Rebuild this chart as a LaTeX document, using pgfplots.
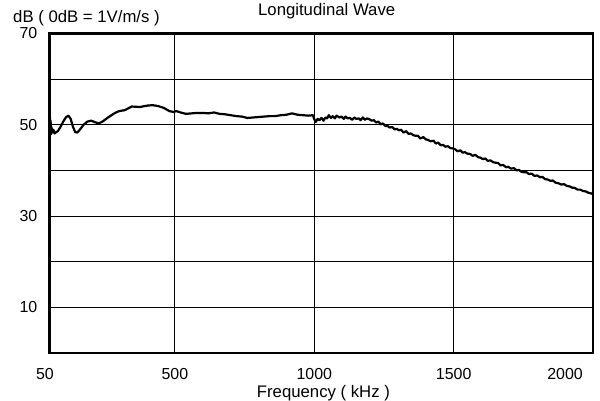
\documentclass[border=0pt]{standalone}
\usepackage{fontspec}
\setmainfont{Liberation Sans}
\usepackage{pgfplots}
\pgfplotsset{compat=1.18}

\begin{document}
\begin{tikzpicture}
\useasboundingbox (-49.5bp,-48bp) rectangle (550.5bp,353bp);
\begin{axis}[
	scale only axis,
	width=543.5bp,
	height=319.5bp,
	xmin=50, xmax=2000,
	ymin=0, ymax=70,
	xtick={50,500,1000,1500,2000},
	xticklabels={\hspace*{-9bp}50,500,1000,1500,\hspace*{-56bp}2000},
	ytick={0,10,...,70},
	yticklabels={,10,,30,,50,,70},
	major tick length=0pt,
	grid=major,
	major grid style={black, line width=0.9bp},
	axis line style={black, line width=2.5bp},
	tick label style={font=\fontsize{16}{18}\selectfont, inner sep=0pt},
	/pgf/number format/assume math mode=true,
	xticklabel shift=15.5bp,
	yticklabel shift=12bp,
	title={Longitudinal Wave},
	title style={at={(0.51,1)}, anchor=base, yshift=12.5bp, inner sep=0pt, font=\fontsize{16.8}{19}\selectfont},
	xlabel={Frequency ( kHz )},
	ylabel={dB ( 0dB = 1V/m/s )},
	every axis x label/.style={at={(0.504,0)}, anchor=base, yshift=-44bp, inner sep=0pt, font=\fontsize{16.8}{19}\selectfont},
	every axis y label/.style={at={(0,1)}, anchor=base west, xshift=-36.5bp, yshift=11.5bp, inner sep=0pt, font=\fontsize{16.8}{19}\selectfont},
]
\addplot[black, line width=2.2bp, line join=round, no marks] table {
50 50.8
51 48.3
52 51.6
53 48.0
54 50.9
55 47.9
57 49.5
60 48.3
64 48.9
68 48.1
74 48.4
80 48.6
90 49.6
100 50.8
110 51.7
118 52.0
126 51.3
134 49.6
142 48.4
150 48.3
160 49.0
172 50.0
186 50.7
200 50.9
212 50.6
226 50.3
240 50.7
260 51.6
285 52.6
300 53.0
320 53.2
345 54.0
375 53.9
400 54.2
420 54.3
440 54.1
460 53.7
480 53.0
495 52.8
505 53.0
520 52.7
540 52.4
560 52.5
580 52.6
600 52.6
620 52.5
640 52.7
660 52.4
680 52.3
700 52.1
720 51.9
740 51.8
760 51.5
780 51.6
800 51.7
820 51.8
840 51.9
860 51.9
880 52.1
900 52.2
920 52.5
940 52.2
960 52.1
980 52.0
995 52.1
1000 51.2
1005 50.6
1012 51.3
1018 51.0
1026 51.5
1033 50.9
1040 51.6
1046 51.4
1052 52.1
1060 51.5
1066 51.9
1074 51.4
1080 52.0
1090 51.6
1098 51.8
1106 51.3
1112 51.8
1120 51.4
1128 51.5
1136 51.1
1144 51.6
1150 51.3
1160 51.4
1166 51.0
1174 51.6
1182 51.1
1190 51.4
1198 51.2
1206 50.9
1214 51.0
1222 50.5
1230 50.7
1238 50.1
1246 50.3
1256 49.7
1262 49.8
1270 49.4
1280 49.5
1288 49.0
1296 49.1
1304 48.8
1312 48.9
1320 48.3
1330 48.6
1338 48.0
1346 48.1
1356 47.7
1364 47.6
1372 47.6
1380 47.0
1392 47.3
1400 46.8
1408 46.7
1416 46.4
1428 46.5
1436 45.9
1444 46.1
1454 45.5
1462 45.6
1470 45.2
1480 45.3
1488 44.9
1500 44.8
1506 44.6
1514 44.2
1524 44.4
1532 43.9
1540 44.0
1548 43.7
1560 43.6
1568 43.2
1578 43.4
1588 42.9
1596 42.8
1604 42.5
1614 42.6
1622 42.1
1632 42.2
1642 41.8
1650 41.7
1660 41.6
1668 41.1
1678 41.2
1688 40.7
1696 40.8
1706 40.4
1716 40.5
1726 40.0
1734 40.1
1744 39.7
1752 39.6
1762 39.6
1770 39.2
1780 39.3
1790 38.8
1800 38.9
1810 38.5
1818 38.6
1828 38.1
1838 38.0
1848 37.7
1856 37.8
1866 37.3
1876 37.2
1886 36.9
1896 37.0
1906 36.6
1916 36.5
1926 36.2
1934 36.2
1944 35.8
1954 35.8
1964 35.5
1974 35.4
1984 35.1
1992 35.0
2000 34.8
};
\end{axis}
\end{tikzpicture}
\end{document}
